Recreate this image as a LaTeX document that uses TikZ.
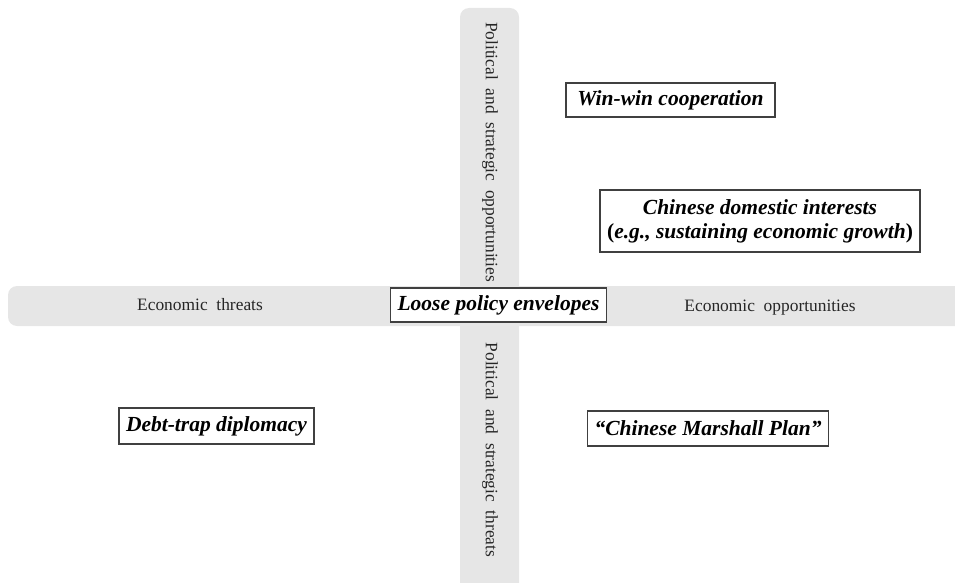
\documentclass[tikz,border=0pt]{standalone}
\usepackage{fontspec}
\setmainfont{Liberation Serif}
\definecolor{barfill}{HTML}{E6E6E6}
\definecolor{boxline}{HTML}{404040}
\newcommand{\ws}{\hspace{0.5em}}
\tikzset{
  bar/.style={fill=barfill, draw=none},
  axislabel/.style={font=\fontsize{17.4}{20}\selectfont, inner sep=0pt, text=black!85},
  keybox/.style={draw=boxline, line width=1.2pt, fill=white, font=\fontsize{21.5}{25}\selectfont\bfseries\itshape,
    inner xsep=7pt, inner ysep=0pt, minimum height=34pt, align=center}
}
\begin{document}
\begin{tikzpicture}[x=1pt,y=-1pt]
\useasboundingbox (0,0) rectangle (955,583);
% bars
\fill[bar, rounded corners=9pt] (460,8) rectangle (519,600);
\fill[bar, rounded corners=9pt] (8,286) rectangle (970,326);
% axis labels
\node[axislabel] (et) at (200,305) {Economic\ws threats};
\node[axislabel] (eo) at (770,308) {Economic\ws opportunities};
\node[axislabel, rotate=-90] (pso) at (490,152) {Political\ws and\ws strategic\ws opportunities};
\node[axislabel, rotate=-90] (pst) at (490,450) {Political\ws and\ws strategic\ws threats};
% boxes
\node[keybox] (lpe) at (498.5,305) {Loose policy envelopes};
\node[keybox, minimum width=209pt] (ww) at (670.5,100) {Win-win cooperation};
\node[keybox, minimum height=62pt, minimum width=320pt] (cdi) at (760,221) {Chinese domestic interests\\[-1pt]\upshape(\itshape e.g., sustaining economic growth\upshape)};
\node[keybox, minimum height=36pt] (dtd) at (216.5,426) {Debt-trap diplomacy};
\node[keybox, minimum height=35pt] (cmp) at (708,428.5) {“Chinese Marshall Plan”};
\end{tikzpicture}
\end{document}
